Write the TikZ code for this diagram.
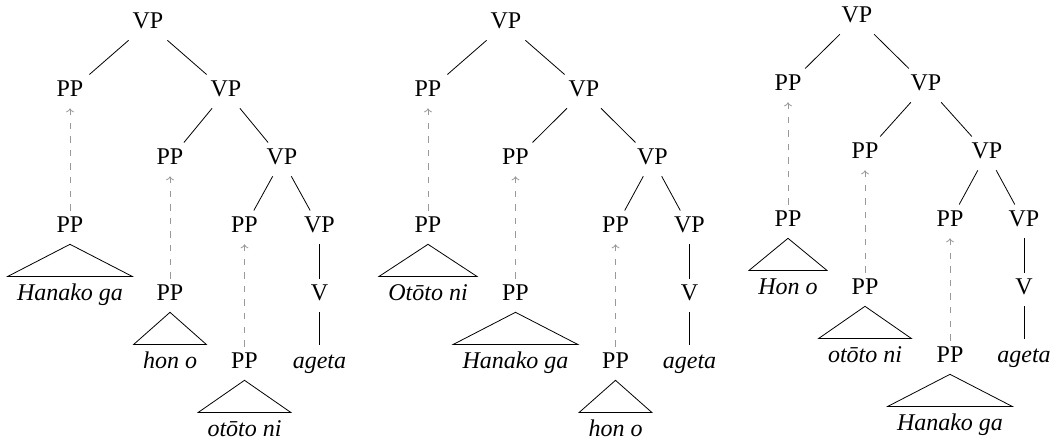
\documentclass[12pt,tikz,border=0pt]{standalone}
\usepackage{fontspec}
\setmainfont{Liberation Serif}
\usetikzlibrary{arrows.meta,positioning,trees}
\tikzset{
  >={To[length=2pt,width=4pt]},
  syn/.style ={x=1pt, y=1pt, level distance=34pt, every node/.style={cat}},
  cat/.style ={inner sep=3pt, text height=8pt, text depth=2.5pt},
  wd/.style  ={cat, inner xsep=4.5pt, inner ysep=4pt, font=\itshape},
  mv/.style  ={->, draw=gray!80, dash pattern=on 3.2pt off 3.6pt}
}

\begin{document}
\begin{tikzpicture}[syn]
\useasboundingbox (0,0) rectangle (528,-220.5);
% Hanako ga > hon o > otooto ni
\begin{scope}[level 1/.style={sibling distance=78pt},
              level 2/.style={sibling distance=56pt},
              level 3/.style={sibling distance=37.5pt}]
\node (a) at (74,-11.7) {VP}
  child { node (a1) {PP} }
  child { node (a2) {VP}
    child { node (a21) {PP} }
    child { node (a22) {VP}
      child { node (a221) {PP} }
      child { node (a222) {VP}
        child { node (a2221) {V}
          child { node[wd] (a22211) {ageta} }
        }
      }
    }
  };
\end{scope}
% Ototo ni > Hanako ga > hon o
\begin{scope}[level 1/.style={sibling distance=78pt},
              level 2/.style={sibling distance=68.5pt},
              level 3/.style={sibling distance=37pt}]
\node (b) at (253,-11.7) {VP}
  child { node (b1) {PP} }
  child { node (b2) {VP}
    child { node (b21) {PP} }
    child { node (b22) {VP}
      child { node (b221) {PP} }
      child { node (b222) {VP}
        child { node (b2221) {V}
          child { node[wd] (b22211) {ageta} }
        }
      }
    }
  };
\end{scope}
% Hon o > ototo ni > Hanako ga
\begin{scope}[level 1/.style={sibling distance=69pt},
              level 2/.style={sibling distance=61pt},
              level 3/.style={sibling distance=37pt}]
\node (c) at (428.5,-8.7) {VP}
  child { node (c1) {PP} }
  child { node (c2) {VP}
    child { node (c21) {PP} }
    child { node (c22) {VP}
      child { node (c221) {PP} }
      child { node (c222) {VP}
        child { node (c2221) {V}
          child { node[wd] (c22211) {ageta} }
        }
      }
    }
  };
\end{scope}
% moved phrases: trace, roof and words
\foreach \p/\w in {a1/Hanako ga, a21/hon o, a221/otōto ni,
                   b1/Otōto ni, b21/Hanako ga, b221/hon o,
                   c1/Hon o, c21/otōto ni, c221/Hanako ga}{
  \node (\p-t) at ([yshift=-68pt]\p) {PP};
  \node[wd] (\p-w) at ([yshift=-34pt]\p-t) {\w};
  \draw[mv] (\p-t) -- (\p);
  \draw (\p-t.south) -- (\p-w.north west) -- (\p-w.north east) -- cycle;
}
\end{tikzpicture}
\end{document}
